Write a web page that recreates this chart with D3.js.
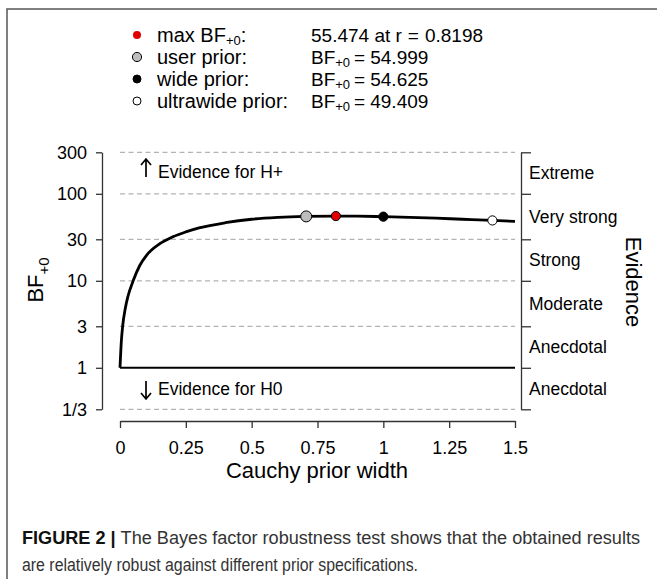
<!DOCTYPE html>
<html>
<head>
<meta charset="utf-8">
<script src="https://cdn.jsdelivr.net/npm/d3@7"></script>
<style>
  body { margin: 0; background: #fff; }
  text { font-family: "Liberation Sans", Arial, sans-serif; fill: #000; }
</style>
</head>
<body>
<svg id="chart" width="657" height="579"></svg>
<script>
// robustness curve
var priorWidth = [0, 0.005, 0.01, 0.02, 0.03, 0.05, 0.075, 0.1, 0.15, 0.2, 0.25, 0.3, 0.4, 0.5, 0.6, 0.7, 0.8198, 0.9, 1.0, 1.1, 1.2, 1.3, 1.414, 1.5];
var bfCurve = [1, 2.0, 3.0, 4.8, 6.6, 10, 15, 19.5, 26.5, 32, 36.5, 40.5, 46.5, 51, 53.5, 54.9, 55.47, 55.3, 54.6, 53.6, 52.4, 51, 49.4, 48.3];

// highlighted priors
var priorR = [0.8198, 0.7071, 1, 1.4142];
var priorBF = [55.474, 54.999, 54.625, 49.409];
var priorLabels = ["max BF", "user prior:", "wide prior:", "ultrawide prior:"];
var priorValues = ["55.474 at r", "54.999", "54.625", "49.409"];
var priorFill = ["#e00000", "#bdbdbd", "#000000", "#ffffff"];

var xTicks = [0, 0.25, 0.5, 0.75, 1, 1.25, 1.5];
var xTickLabels = ["0", "0.25", "0.5", "0.75", "1", "1.25", "1.5"];
var yTicks = [1/3, 1, 3, 10, 30, 100, 300];
var yTickLabels = ["1/3", "1", "3", "10", "30", "100", "300"];
var evidenceLabels = ["Anecdotal", "Anecdotal", "Moderate", "Strong", "Very strong", "Extreme"];

var svg = d3.select("#chart");

var x = d3.scaleLinear().domain([0, 1.5]).range([120, 515]);
var y = d3.scaleLog().domain([1/3, 300]).range([409.3, 152.3]);

// outer frame of the figure
svg.append("path")
    .attr("d", "M7,579 L7,9 L657,9")
    .attr("fill", "none")
    .attr("stroke", "#555")
    .attr("stroke-width", 1.5);

// dashed guide lines
svg.selectAll(".grid")
    .data(yTicks.filter(function (d) { return d !== 1; }))
    .enter().append("line")
    .attr("x1", x(0)).attr("x2", x(1.5))
    .attr("y1", function (d) { return y(d); })
    .attr("y2", function (d) { return y(d); })
    .attr("stroke", "#b3b3b3")
    .attr("stroke-width", 1.3)
    .attr("stroke-dasharray", "5,3.5");

// BF = 1 line
svg.append("line")
    .attr("x1", x(0)).attr("x2", x(1.5))
    .attr("y1", y(1)).attr("y2", y(1))
    .attr("stroke", "#000")
    .attr("stroke-width", 2);

// the curve
var line = d3.line()
    .x(function (d, i) { return x(priorWidth[i]); })
    .y(function (d) { return y(d); })
    .curve(d3.curveMonotoneX);

svg.append("path")
    .datum(bfCurve)
    .attr("d", line)
    .attr("fill", "none")
    .attr("stroke", "#000")
    .attr("stroke-width", 2.8);

// prior points on the curve (user prior first so red sits on top)
var order = [1, 0, 2, 3];
svg.selectAll(".pt")
    .data(order)
    .enter().append("circle")
    .attr("cx", function (i) { return x(priorR[i]); })
    .attr("cy", function (i) { return y(priorBF[i]); })
    .attr("r", function (i) { return i === 1 ? 5.5 : 4.6; })
    .attr("fill", function (i) { return priorFill[i]; })
    .attr("stroke", "#000")
    .attr("stroke-width", 1);

// axes
function styleAxis(g) {
    g.select(".domain").attr("stroke", "#333").attr("stroke-width", 1.3);
    g.selectAll(".tick line").attr("stroke", "#333").attr("stroke-width", 1.3);
    g.selectAll(".tick text").attr("fill", "#111").style("font-size", "18px")
        .style("font-family", "'Liberation Sans', Arial, sans-serif");
}

svg.append("g")
    .attr("transform", "translate(102,0)")
    .call(d3.axisLeft(y).tickValues(yTicks)
        .tickFormat(function (d, i) { return yTickLabels[i]; })
        .tickSize(6).tickPadding(9).tickSizeOuter(0))
    .call(styleAxis);

svg.append("g")
    .attr("transform", "translate(0,421)")
    .call(d3.axisBottom(x).tickValues(xTicks)
        .tickFormat(function (d, i) { return xTickLabels[i]; })
        .tickSize(7).tickPadding(13).tickSizeOuter(0))
    .call(styleAxis);

svg.append("g")
    .attr("transform", "translate(521,0)")
    .call(d3.axisRight(y).tickValues(yTicks).tickFormat("")
        .tickSize(10).tickSizeOuter(0))
    .call(styleAxis);

// evidence categories on the right
svg.selectAll(".ev")
    .data(evidenceLabels)
    .enter().append("text")
    .attr("x", 529)
    .attr("y", function (d, i) { return y(Math.sqrt(yTicks[i] * yTicks[i + 1])); })
    .attr("dy", "0.35em")
    .style("font-size", "17.5px")
    .text(function (d) { return d; });

svg.append("text")
    .attr("transform", "translate(626,282) rotate(90)")
    .attr("text-anchor", "middle")
    .style("font-size", "22px")
    .text("Evidence");

// axis titles
svg.append("text")
    .attr("x", 317).attr("y", 478)
    .attr("text-anchor", "middle")
    .style("font-size", "22px")
    .text("Cauchy prior width");

var yl = svg.append("text")
    .attr("transform", "translate(43,280) rotate(-90)")
    .attr("text-anchor", "middle")
    .style("font-size", "22px");
yl.append("tspan").text("BF");
yl.append("tspan").attr("dy", 6).style("font-size", "15px").text("+0");

// direction hints
function arrow(xc, y0, y1) {
    var dir = y1 < y0 ? 1 : -1;
    svg.append("path")
        .attr("d", "M" + xc + "," + y0 + " L" + xc + "," + y1 +
            " M" + (xc - 5) + "," + (y1 + dir * 6) + " L" + xc + "," + y1 + " L" + (xc + 5) + "," + (y1 + dir * 6))
        .attr("fill", "none")
        .attr("stroke", "#000")
        .attr("stroke-width", 1.7);
}
arrow(146, 177, 159);
arrow(146, 381, 399);

svg.append("text").attr("x", 158).attr("y", 178)
    .style("font-size", "17.5px").text("Evidence for H+");
svg.append("text").attr("x", 158).attr("y", 395)
    .style("font-size", "17.5px").text("Evidence for H0");

// legend
var rowY = [35, 57, 79, 101];
priorLabels.forEach(function (lab, i) {
    svg.append("circle")
        .attr("cx", 137).attr("cy", rowY[i])
        .attr("r", i === 1 ? 4.6 : 4)
        .attr("fill", priorFill[i])
        .attr("stroke", i === 0 ? "none" : "#000")
        .attr("stroke-width", 1);

    var t = svg.append("text").attr("x", 157).attr("y", rowY[i] + 7)
        .style("font-size", "20px");
    t.append("tspan").text(lab);
    if (i === 0) {
        t.append("tspan").attr("dy", 3).style("font-size", "13px").text("+0");
        t.append("tspan").attr("dy", -3).text(":");
    }

    var v = svg.append("text").attr("x", 311).attr("y", rowY[i] + 7)
        .style("font-size", "19px");
    if (i === 0) {
        v.append("tspan").text(priorValues[i]);
        v.append("tspan").attr("dx", 6).text("=");
        v.append("tspan").attr("dx", 6).text("0.8198");
    } else {
        v.append("tspan").text("BF");
        v.append("tspan").attr("dy", 3).style("font-size", "13px").text("+0");
        v.append("tspan").attr("dy", -3).attr("dx", 4).text("=");
        v.append("tspan").attr("dx", 5).text(priorValues[i]);
    }
});

// caption
var c1 = svg.append("text").attr("x", 22).attr("y", 544)
    .attr("textLength", 618).attr("lengthAdjust", "spacingAndGlyphs")
    .style("font-size", "17.5px").style("fill", "#333");
c1.append("tspan").style("font-weight", "bold").style("fill", "#111").text("FIGURE 2 | ");
c1.append("tspan").text("The Bayes factor robustness test shows that the obtained results");

svg.append("text").attr("x", 22).attr("y", 571)
    .attr("textLength", 396).attr("lengthAdjust", "spacingAndGlyphs")
    .style("font-size", "17.5px").style("fill", "#333")
    .text("are relatively robust against different prior specifications.");
</script>
</body>
</html>
